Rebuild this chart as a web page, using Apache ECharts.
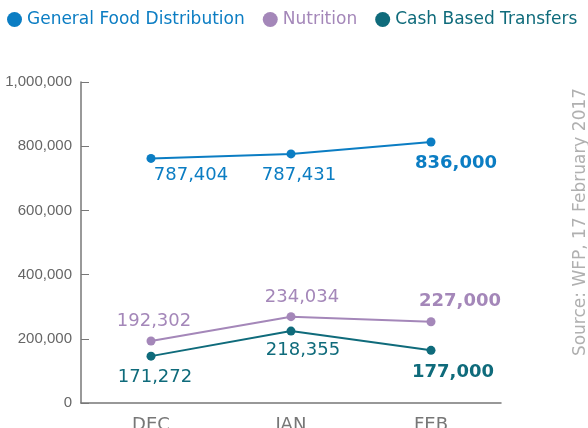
<!DOCTYPE html>
<html>
<head>
<meta charset="utf-8">
<script src="https://cdn.jsdelivr.net/npm/echarts@6/dist/echarts.min.js"></script>
<style>
  html, body { margin: 0; padding: 0; background: #fff; }
  #chart { width: 588px; height: 428px; }
</style>
</head>
<body>
<div id="chart"></div>
<script>
// months on the x axis
const months = ['DEC', 'JAN', 'FEB'];
// plotted values (read from point positions)
const gfdValues = [762000, 776000, 813000];
const nutritionValues = [193000, 269000, 253000];
const cbtValues = [146000, 224000, 164000];
// printed labels
const gfdLabels = ['787,404', '787,431', '836,000'];
const nutritionLabels = ['192,302', '234,034', '227,000'];
const cbtLabels = ['171,272', '218,355', '177,000'];
const yTicks = [0, 200000, 400000, 600000, 800000, 1000000];

// label offsets from the point, per month
const gfdOffsets = [[40, 17], [8, 21], [25, 21]];
const nutritionOffsets = [[3, -20], [11, -19], [29, -20]];
const cbtOffsets = [[4, 21], [12, 19], [22, 22]];

const font = 'DejaVu Sans';

function buildData(values, labels, offsets, color) {
  return values.map(function (v, i) {
    const last = i === values.length - 1;
    return {
      value: v,
      label: {
        show: true,
        position: 'inside',
        offset: offsets[i],
        formatter: labels[i],
        color: color,
        fontFamily: font,
        fontSize: 18,
        fontWeight: last ? 'bold' : 'normal'
      }
    };
  });
}

function makeSeries(name, values, labels, offsets, color) {
  return {
    name: name,
    type: 'line',
    data: buildData(values, labels, offsets, color),
    symbol: 'circle',
    symbolSize: 9,
    itemStyle: { color: color },
    lineStyle: { color: color, width: 2 },
    emphasis: { disabled: true },
    z: 3
  };
}

let myChart = echarts.init(document.getElementById('chart'));
myChart.setOption({
  animation: false,
  legend: {
    left: 2,
    top: 6,
    icon: 'circle',
    itemWidth: 15,
    itemHeight: 15,
    itemGap: 18,
    textStyle: { fontFamily: font, fontSize: 17 },
    data: [
      { name: 'General Food Distribution', textStyle: { color: '#0b7dc3' } },
      { name: 'Nutrition', textStyle: { color: '#a487b9' } },
      { name: 'Cash Based Transfers', textStyle: { color: '#0f6b7b' } }
    ]
  },
  grid: { left: 81, right: 87, top: 82, bottom: 25, containLabel: false, outerBoundsMode: 'none' },
  xAxis: {
    type: 'category',
    data: months,
    boundaryGap: true,
    axisLine: { lineStyle: { color: '#777', width: 1.5 } },
    axisTick: { inside: true, length: 7, lineStyle: { color: '#777' } },
    axisLabel: { color: '#777', fontFamily: font, fontSize: 18, margin: 13 }
  },
  yAxis: {
    type: 'value',
    min: yTicks[0],
    max: yTicks[yTicks.length - 1],
    interval: yTicks[1] - yTicks[0],
    axisLine: { show: true, lineStyle: { color: '#777', width: 1.5 } },
    axisTick: { show: true, inside: true, length: 8, lineStyle: { color: '#777' } },
    splitLine: { show: false },
    axisLabel: {
      color: '#666',
      fontFamily: 'Liberation Sans',
      fontSize: 15,
      margin: 9,
      formatter: function (v) { return v.toLocaleString('en-US'); }
    }
  },
  graphic: [{
    type: 'text',
    x: 581,
    y: 222,
    rotation: Math.PI / 2,
    style: {
      text: 'Source: WFP, 17 February 2017',
      fill: '#b0b0b0',
      font: '17px "DejaVu Sans"',
      align: 'center',
      verticalAlign: 'middle'
    }
  }],
  series: [
    makeSeries('General Food Distribution', gfdValues, gfdLabels, gfdOffsets, '#0b7dc3'),
    makeSeries('Nutrition', nutritionValues, nutritionLabels, nutritionOffsets, '#a487b9'),
    makeSeries('Cash Based Transfers', cbtValues, cbtLabels, cbtOffsets, '#0f6b7b')
  ]
});
</script>
</body>
</html>
